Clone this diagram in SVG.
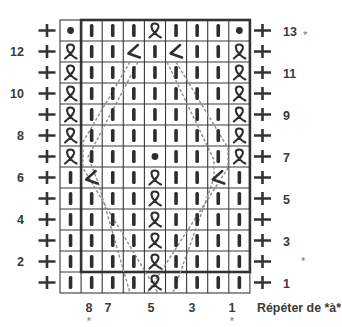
<svg xmlns="http://www.w3.org/2000/svg" width="342" height="327" viewBox="0 0 342 327">
<style>
.grid{stroke:#3a3a3a;stroke-width:1.1;fill:none}
.thick{stroke:#333;stroke-width:2.6;fill:none}
.sym{stroke:#2e2e2e;fill:none;stroke-linecap:round;stroke-linejoin:round}
.bar{fill:#2e2e2e}
.dash{stroke:#8c8c8c;stroke-width:1.4;fill:none;stroke-dasharray:3 2}
.plus{stroke:#333;stroke-width:2.6}
.lbl{font-family:"Liberation Sans Narrow","Liberation Sans",Arial,sans-serif;font-weight:bold;font-size:12.5px;fill:#3a3a3a}
.ast{font-family:"Liberation Sans",Arial,sans-serif;font-size:11px;fill:#777}
</style>
<defs>
<g id="k"><rect class="bar" x="-1.8" y="-6.5" width="3.6" height="13" rx="1.5"/></g>
<g id="p"><circle cx="0" cy="0" r="3.4" fill="#2e2e2e"/></g>
<g id="t"><path class="sym" stroke-width="2.1" d="M-5.5,7 C-1,3 4.5,-1 3.5,-4.5 C2.5,-8 -3.5,-8 -3.5,-4 C-3.5,-0.5 1,4.5 6,7"/></g>
<g id="d"><path class="sym" stroke-width="2.5" d="M4,-6.5 L-5.5,2 L6,6"/></g>
<g id="pl"><path class="plus" d="M-8.5,0 H8.5 M0,-6.5 V6.5"/></g>
</defs>

<g id="grid">
<rect class="grid" x="60" y="20" width="189.9" height="273"/>
<path class="grid" d="M81.1,20V293 M102.2,20V293 M123.3,20V293 M144.4,20V293 M165.5,20V293 M186.6,20V293 M207.7,20V293 M228.8,20V293
M60,41H249.9 M60,62H249.9 M60,83H249.9 M60,104H249.9 M60,125H249.9 M60,146H249.9 M60,167H249.9 M60,188H249.9 M60,209H249.9 M60,230H249.9 M60,251H249.9 M60,272H249.9"/>
<rect class="thick" x="81.1" y="20" width="168.8" height="252"/>
</g>

<g id="connectors">
<path class="dash" d="M130,62 L83,142 L83,168 L158,293"/>
<path class="dash" d="M138,62 L88,157 L98,182 L130,293"/>
<path class="dash" d="M176,62 L228,148 L228,168 L147,293"/>
<path class="dash" d="M167,62 L214,160 L214,178 L173,293"/>
</g>

<g id="stitches">
<!-- row 13 -->
<use href="#p" x="70.55" y="30.5"/><use href="#k" x="91.65" y="30.5"/><use href="#k" x="112.75" y="30.5"/><use href="#k" x="133.85" y="30.5"/><use href="#t" x="154.95" y="30.5"/><use href="#k" x="176.05" y="30.5"/><use href="#k" x="197.15" y="30.5"/><use href="#k" x="218.25" y="30.5"/><use href="#p" x="239.35" y="30.5"/>
<!-- row 12 -->
<use href="#t" x="70.55" y="51.5"/><use href="#k" x="91.65" y="51.5"/><use href="#k" x="112.75" y="51.5"/><use href="#d" x="133.85" y="51.5"/><use href="#k" x="154.95" y="51.5"/><use href="#d" x="176.05" y="51.5"/><use href="#k" x="197.15" y="51.5"/><use href="#k" x="218.25" y="51.5"/><use href="#t" x="239.35" y="51.5"/>
<!-- row 11 -->
<use href="#t" x="70.55" y="72.5"/><use href="#k" x="91.65" y="72.5"/><use href="#k" x="112.75" y="72.5"/><use href="#k" x="133.85" y="72.5"/><use href="#k" x="154.95" y="72.5"/><use href="#k" x="176.05" y="72.5"/><use href="#k" x="197.15" y="72.5"/><use href="#k" x="218.25" y="72.5"/><use href="#t" x="239.35" y="72.5"/>
<!-- row 10 -->
<use href="#t" x="70.55" y="93.5"/><use href="#k" x="91.65" y="93.5"/><use href="#k" x="112.75" y="93.5"/><use href="#k" x="133.85" y="93.5"/><use href="#k" x="154.95" y="93.5"/><use href="#k" x="176.05" y="93.5"/><use href="#k" x="197.15" y="93.5"/><use href="#k" x="218.25" y="93.5"/><use href="#t" x="239.35" y="93.5"/>
<!-- row 9 -->
<use href="#t" x="70.55" y="114.5"/><use href="#k" x="91.65" y="114.5"/><use href="#k" x="112.75" y="114.5"/><use href="#k" x="133.85" y="114.5"/><use href="#k" x="154.95" y="114.5"/><use href="#k" x="176.05" y="114.5"/><use href="#k" x="197.15" y="114.5"/><use href="#k" x="218.25" y="114.5"/><use href="#t" x="239.35" y="114.5"/>
<!-- row 8 -->
<use href="#t" x="70.55" y="135.5"/><use href="#k" x="91.65" y="135.5"/><use href="#k" x="112.75" y="135.5"/><use href="#k" x="133.85" y="135.5"/><use href="#k" x="154.95" y="135.5"/><use href="#k" x="176.05" y="135.5"/><use href="#k" x="197.15" y="135.5"/><use href="#k" x="218.25" y="135.5"/><use href="#t" x="239.35" y="135.5"/>
<!-- row 7 -->
<use href="#t" x="70.55" y="156.5"/><use href="#k" x="91.65" y="156.5"/><use href="#k" x="112.75" y="156.5"/><use href="#k" x="133.85" y="156.5"/><use href="#p" x="154.95" y="156.5"/><use href="#k" x="176.05" y="156.5"/><use href="#k" x="197.15" y="156.5"/><use href="#k" x="218.25" y="156.5"/><use href="#t" x="239.35" y="156.5"/>
<!-- row 6 -->
<use href="#k" x="70.55" y="177.5"/><use href="#d" x="91.65" y="177.5"/><use href="#k" x="112.75" y="177.5"/><use href="#k" x="133.85" y="177.5"/><use href="#t" x="154.95" y="177.5"/><use href="#k" x="176.05" y="177.5"/><use href="#k" x="197.15" y="177.5"/><use href="#d" x="218.25" y="177.5"/><use href="#k" x="239.35" y="177.5"/>
<!-- row 5 -->
<use href="#k" x="70.55" y="198.5"/><use href="#k" x="91.65" y="198.5"/><use href="#k" x="112.75" y="198.5"/><use href="#k" x="133.85" y="198.5"/><use href="#t" x="154.95" y="198.5"/><use href="#k" x="176.05" y="198.5"/><use href="#k" x="197.15" y="198.5"/><use href="#k" x="218.25" y="198.5"/><use href="#k" x="239.35" y="198.5"/>
<!-- row 4 -->
<use href="#k" x="70.55" y="219.5"/><use href="#k" x="91.65" y="219.5"/><use href="#k" x="112.75" y="219.5"/><use href="#k" x="133.85" y="219.5"/><use href="#t" x="154.95" y="219.5"/><use href="#k" x="176.05" y="219.5"/><use href="#k" x="197.15" y="219.5"/><use href="#k" x="218.25" y="219.5"/><use href="#k" x="239.35" y="219.5"/>
<!-- row 3 -->
<use href="#k" x="70.55" y="240.5"/><use href="#k" x="91.65" y="240.5"/><use href="#k" x="112.75" y="240.5"/><use href="#k" x="133.85" y="240.5"/><use href="#t" x="154.95" y="240.5"/><use href="#k" x="176.05" y="240.5"/><use href="#k" x="197.15" y="240.5"/><use href="#k" x="218.25" y="240.5"/><use href="#k" x="239.35" y="240.5"/>
<!-- row 2 -->
<use href="#k" x="70.55" y="261.5"/><use href="#k" x="91.65" y="261.5"/><use href="#k" x="112.75" y="261.5"/><use href="#k" x="133.85" y="261.5"/><use href="#t" x="154.95" y="261.5"/><use href="#k" x="176.05" y="261.5"/><use href="#k" x="197.15" y="261.5"/><use href="#k" x="218.25" y="261.5"/><use href="#k" x="239.35" y="261.5"/>
<!-- row 1 -->
<use href="#k" x="70.55" y="282.5"/><use href="#k" x="91.65" y="282.5"/><use href="#k" x="112.75" y="282.5"/><use href="#k" x="133.85" y="282.5"/><use href="#t" x="154.95" y="282.5"/><use href="#k" x="176.05" y="282.5"/><use href="#k" x="197.15" y="282.5"/><use href="#k" x="218.25" y="282.5"/><use href="#k" x="239.35" y="282.5"/>
</g>

<g id="plus-left">
<use href="#pl" x="47" y="30.5"/><use href="#pl" x="47" y="51.5"/><use href="#pl" x="47" y="72.5"/><use href="#pl" x="47" y="93.5"/><use href="#pl" x="47" y="114.5"/><use href="#pl" x="47" y="135.5"/><use href="#pl" x="47" y="156.5"/><use href="#pl" x="47" y="177.5"/><use href="#pl" x="47" y="198.5"/><use href="#pl" x="47" y="219.5"/><use href="#pl" x="47" y="240.5"/><use href="#pl" x="47" y="261.5"/><use href="#pl" x="47" y="282.5"/>
</g>
<g id="plus-right">
<use href="#pl" x="262.5" y="30.5"/><use href="#pl" x="262.5" y="51.5"/><use href="#pl" x="262.5" y="72.5"/><use href="#pl" x="262.5" y="93.5"/><use href="#pl" x="262.5" y="114.5"/><use href="#pl" x="262.5" y="135.5"/><use href="#pl" x="262.5" y="156.5"/><use href="#pl" x="262.5" y="177.5"/><use href="#pl" x="262.5" y="198.5"/><use href="#pl" x="262.5" y="219.5"/><use href="#pl" x="262.5" y="240.5"/><use href="#pl" x="262.5" y="261.5"/><use href="#pl" x="262.5" y="282.5"/>
</g>

<g id="row-labels-left" class="lbl" text-anchor="end">
<text x="24" y="56">12</text>
<text x="24" y="98">10</text>
<text x="24" y="140">8</text>
<text x="24" y="182">6</text>
<text x="24" y="224">4</text>
<text x="24" y="266">2</text>
</g>
<g id="row-labels-right" class="lbl">
<text x="283" y="36">13</text>
<text x="283" y="78">11</text>
<text x="283" y="120">9</text>
<text x="283" y="162">7</text>
<text x="283" y="204">5</text>
<text x="283" y="246">3</text>
<text x="283" y="288">1</text>
</g>
<text class="ast" x="303" y="39">*</text>
<text class="ast" x="301" y="265">*</text>

<g id="col-labels" class="lbl" text-anchor="middle">
<text x="89" y="312">8</text>
<text x="108" y="312">7</text>
<text x="151" y="312">5</text>
<text x="192" y="312">3</text>
<text x="232" y="312">1</text>
</g>
<text class="ast" x="89" y="325" text-anchor="middle">*</text>
<text class="ast" x="232" y="325" text-anchor="middle">*</text>
<text class="lbl" x="257" y="312" textLength="84" lengthAdjust="spacingAndGlyphs">Répéter de *à*</text>
</svg>
